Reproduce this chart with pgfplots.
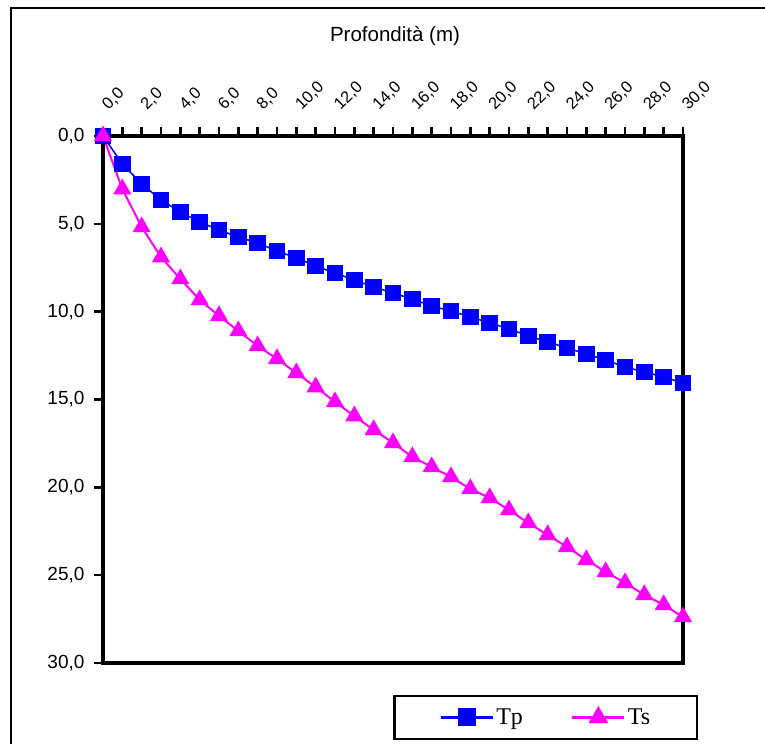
\documentclass[border=0pt]{standalone}
\usepackage{fontspec}
\setmainfont{Liberation Sans}
\newfontfamily\legfont{Liberation Serif}
\usepackage{pgfplots}
\usepackage{pgfplotstable}
\pgfplotsset{compat=1.18}

\definecolor{tpblue}{RGB}{0,0,255}
\definecolor{tsmag}{RGB}{255,0,255}

% Travel times (ms) versus depth (m); depth grows downwards
\pgfplotstableread{
x   tp     ts
0   0.00   0.00
1   1.59   3.02
2   2.73   5.18
3   3.64   6.89
4   4.33   8.14
5   4.89   9.33
6   5.35   10.24
7   5.75   11.10
8   6.09   11.95
9   6.55   12.69
10  6.94   13.49
11  7.40   14.29
12  7.80   15.14
13  8.20   15.94
14  8.59   16.73
15  8.94   17.47
16  9.28   18.27
17  9.68   18.84
18  9.96   19.41
19  10.30  20.09
20  10.64  20.60
21  10.98  21.29
22  11.38  22.03
23  11.72  22.71
24  12.07  23.39
25  12.41  24.13
26  12.75  24.81
27  13.15  25.44
28  13.43  26.12
29  13.72  26.69
30  14.06  27.38
}\times

\begin{document}
\begin{tikzpicture}[x=1pt,y=1pt]
\useasboundingbox (0,0) rectangle (765,744);
% chart frame
\draw[line width=2.5pt] (11,0) -- (11,736) -- (765,736);
\begin{axis}[
  at={(103pt,81pt)}, anchor=south west,
  width=580pt, height=527pt, scale only axis,
  xmin=0, xmax=30, ymin=-30, ymax=0,
  clip=false,
  axis line style={line width=3.5pt},
  xtick={0,2,...,30}, minor x tick num=1,
  ytick={-30,-25,...,0},
  xtick pos=right, xticklabel pos=right,
  ytick pos=left,
  tick align=outside,
  major tick length=9pt, minor tick length=9pt,
  tick style={draw=black, line width=2.5pt},
  /pgf/number format/.cd, fixed, fixed zerofill, precision=1, use comma, assume math mode=true,
  /pgfplots/.cd,
  yticklabel={\pgfmathparse{abs(\tick)}\pgfmathprintnumber{\pgfmathresult}},
  xticklabel style={rotate=45, anchor=south west, font=\fontsize{16.5}{16.5}\selectfont, xshift=12pt, yshift=2pt},
  yticklabel style={font=\fontsize{19}{19}\selectfont, xshift=-6pt},
  title={Profondità (m)},
  title style={font=\fontsize{20.5}{20.5}\selectfont, at={(0.5,1)}, anchor=south, yshift=81pt, xshift=2pt},
  legend columns=2,
  legend style={at={(0.5,-0.06)}, anchor=north west, draw=black, line width=2.5pt,
    inner xsep=45pt, inner ysep=11pt,
    font=\legfont\fontsize{24}{24}\selectfont,
    /tikz/every even column/.style={column sep=46pt}},
  legend image code/.code={\draw[mark repeat=2, mark phase=2, #1, line width=3pt] plot coordinates {(0pt,0pt) (26pt,0pt) (52pt,0pt)};},
]
% heavy tick marks along the top and left axis lines
\pgfplotsinvokeforeach{0,1,...,30}{\draw[black, line width=2.5pt] (axis cs:#1,0) -- ++(0pt,9pt);}
\pgfplotsinvokeforeach{-30,-25,...,0}{\draw[black, line width=2.5pt] (axis cs:0,#1) -- ++(-9pt,0pt);}
\addplot[tpblue, line width=1.5pt, mark=square*, mark size=7.5pt, mark options={solid}] table[x=x, y expr=-\thisrow{tp}] {\times};
\addlegendentry{Tp}
\addplot[tsmag, line width=2pt, mark=triangle*, mark size=8.5pt, mark options={solid}] table[x=x, y expr=-\thisrow{ts}] {\times};
\addlegendentry{Ts}
\end{axis}
\end{tikzpicture}
\end{document}
